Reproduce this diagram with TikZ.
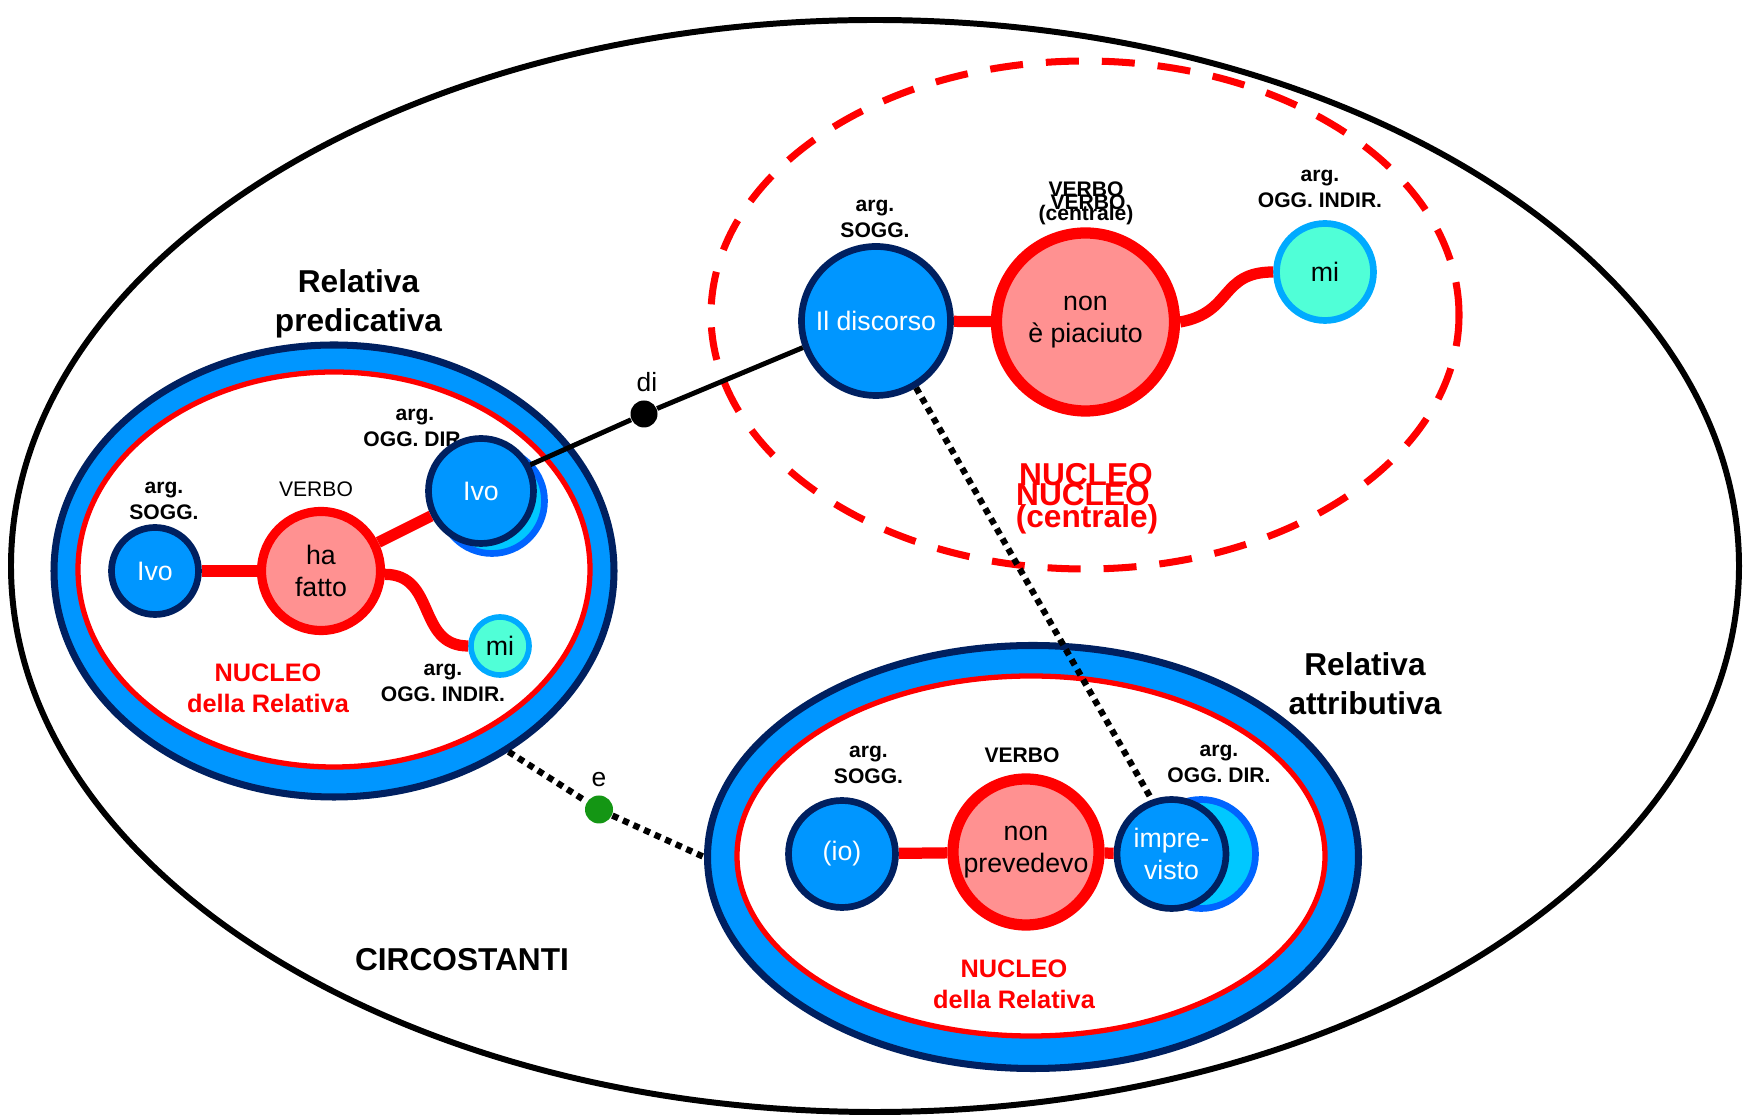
\documentclass[tikz,border=0pt]{standalone}
\usepackage{fontspec}
\setmainfont{Liberation Sans}
\usetikzlibrary{shapes.geometric}

\definecolor{argblue}{RGB}{0,150,255}
\definecolor{navy}{RGB}{0,32,96}
\definecolor{verbfill}{RGB}{255,145,145}
\definecolor{mifill}{RGB}{80,255,215}
\definecolor{miborder}{RGB}{0,170,255}
\definecolor{shfill}{RGB}{0,200,255}
\definecolor{shborder}{RGB}{0,100,255}
\definecolor{egreen}{RGB}{20,150,20}

\begin{document}
\begin{tikzpicture}[
  arg/.style={circle,draw=navy,fill=argblue,line width=1.9pt,text=white,inner sep=0pt,align=center,font=\fontsize{7.6}{9}\selectfont},
  argsh/.style={circle,draw=shborder,fill=shfill,line width=1.9pt,inner sep=0pt},
  verb/.style={circle,draw=red,fill=verbfill,inner sep=0pt,align=center,font=\fontsize{7.6}{9}\selectfont},
  miarg/.style={circle,draw=miborder,fill=mifill,line width=1.9pt,inner sep=0pt,font=\fontsize{7.6}{9}\selectfont},
  tag/.style={inner sep=0pt,align=center,font=\fontsize{6}{7.3}\selectfont\bfseries},
  nucleo/.style={inner sep=0pt,align=center,text=red,font=\fontsize{7.2}{8.8}\selectfont\bfseries},
  title/.style={inner sep=0pt,align=center,font=\fontsize{9}{11.1}\selectfont\bfseries},
  relout/.style={ellipse,draw=navy,fill=argblue,line width=2pt,inner sep=0pt},
  relin/.style={ellipse,draw=red,fill=white,line width=1.5pt,inner sep=0pt},
  link/.style={red,line width=3.2pt},
  dots/.style={line width=1.8pt,dash pattern=on 1.8pt off 1.5pt},
]
\useasboundingbox (0,0) rectangle (17.46,11.17);

% circostanti
\node[ellipse,draw,line width=1.7pt,inner sep=0pt,minimum width=17.28cm,minimum height=10.92cm] (circ) at (8.75,5.51) {};
\node[title,anchor=base] (circlbl) at (4.62,1.46) {CIRCOSTANTI};

% nucleo centrale
\node[ellipse,draw=red,line width=2pt,dash pattern=on 0.33cm off 0.23cm,inner sep=0pt,minimum width=7.48cm,minimum height=5.08cm] (nucC) at (10.85,8.02) {};
\node[title,text=red,anchor=base] (nucC1) at (10.86,6.31) {NUCLEO};
\node[title,text=red,anchor=base] (nucC2) at (10.83,6.11) {NUCLEO};
\node[title,text=red,anchor=base] (nucC3) at (10.87,5.89) {(centrale)};

% relativa predicativa
\node[relout,minimum width=5.60cm,minimum height=4.52cm] (predE) at (3.34,5.46) {};
\node[relin,minimum width=5.12cm,minimum height=3.95cm] (predN) at (3.34,5.475) {};
\node[title] (relP) at (3.585,8.13) {Relativa\\predicativa};
\node[nucleo] (nucL) at (2.68,4.29) {NUCLEO\\della Relativa};

% relativa attributiva
\node[relout,minimum width=6.51cm,minimum height=4.23cm] (attrE) at (10.33,2.60) {};
\node[relin,minimum width=5.88cm,minimum height=3.60cm] (attrN) at (10.31,2.61) {};
\node[title] (relA) at (13.65,4.33) {Relativa\\attributiva};
\node[nucleo] (nucR) at (10.14,1.33) {NUCLEO\\della Relativa};

% etichette
\node[tag] (argS1) at (8.75,8.98) {arg.\\SOGG.};
\node[tag,anchor=base] (verbC1) at (10.86,9.20) {VERBO};
\node[tag,anchor=base] (verbC2) at (10.88,9.07) {VERBO};
\node[tag,anchor=base] (verbC3) at (10.86,8.96) {(centrale)};
\node[tag] (argOIT) at (13.20,9.28) {arg.\\OGG. INDIR.};
\node[tag] (argS2) at (1.64,6.16) {arg.\\SOGG.};
\node[tag,font=\fontsize{6}{7.3}\selectfont,anchor=base] (verbL) at (3.16,6.20) {VERBO};
\node[tag] (argODL) at (4.15,6.89) {arg.\\OGG. DIR.};
\node[tag] (argOIL) at (4.43,4.34) {arg.\\OGG. INDIR.};
\node[tag] (argS3) at (8.685,3.52) {arg.\\SOGG.};
\node[tag,anchor=base] (verbR) at (10.22,3.54) {VERBO};
\node[tag] (argODR) at (12.19,3.53) {arg.\\OGG. DIR.};

% nucleo centrale: nodi
\node[arg,minimum size=1.49cm] (disc) at (8.76,7.96) {Il discorso};
\node[verb,line width=3.2pt,minimum size=1.78cm] (piac) at (10.855,7.95) {non\\è piaciuto};
\node[miarg,minimum size=0.97cm] (miT) at (13.25,8.45) {mi};

% relativa predicativa: nodi
\node[arg,minimum size=0.87cm] (ivoS) at (1.55,5.46) {Ivo};
\node[verb,line width=2.6pt,minimum size=1.19cm] (haf) at (3.21,5.46) {ha\\fatto};
\node[argsh,minimum size=1.05cm] (ivoOsh) at (4.92,6.16) {};
\node[arg,minimum size=1.05cm] (ivoO) at (4.81,6.26) {Ivo};
\node[miarg,line width=1.6pt,minimum size=0.58cm] (miL) at (5.00,4.71) {mi};

% relativa attributiva: nodi
\node[arg,minimum size=1.07cm] (io) at (8.42,2.63) {(io)};
\node[verb,line width=3.2pt,minimum size=1.46cm] (prev) at (10.26,2.65) {non\\prevedevo};
\node[argsh,minimum size=1.09cm] (impsh) at (12.01,2.63) {};
\node[arg,minimum size=1.09cm] (imp) at (11.715,2.63) {impre-\\visto};

% legami
\draw[link] (disc) -- (piac);
\draw[link] (piac.east) to[out=10,in=180,looseness=1.3] (miT.west);
\draw[link] (ivoS) -- (haf);
\draw[link] (haf) -- (ivoO);
\draw[link] (haf.-3) to[out=0,in=180,looseness=1.2] (miL.west);
\draw[link] (io) -- (prev);
\draw[link] (prev) -- (imp);

\node[circle,fill=black,inner sep=0pt,minimum size=0.27cm] (didot) at (6.44,7.03) {};
\node[anchor=base,inner sep=0pt,font=\fontsize{7.5}{9}\selectfont] (dilbl) at (6.47,7.25) {di};
\draw[line width=1.4pt] (ivoO.28) -- (didot) -- (disc.200);

\node[circle,fill=egreen,inner sep=0pt,minimum size=0.28cm] (edot) at (5.99,3.075) {};
\node[anchor=base,inner sep=0pt,font=\fontsize{7.5}{9}\selectfont] (elbl) at (5.99,3.30) {e};
\draw[dots] (predE.-46) -- (edot) -- (attrE.180);
\draw[dots] (disc.-59) -- (imp.110);
\end{tikzpicture}
\end{document}
